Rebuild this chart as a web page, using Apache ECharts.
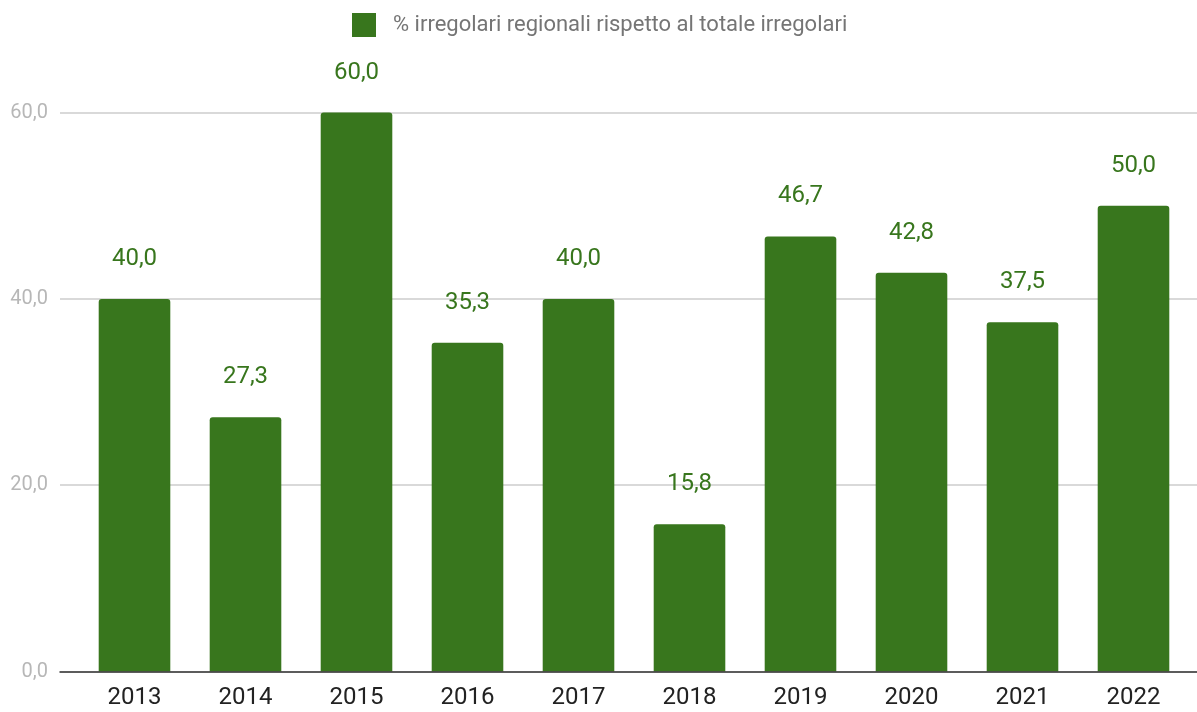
<!DOCTYPE html>
<html>
<head>
<meta charset="utf-8">
<script src="https://cdn.jsdelivr.net/npm/echarts@6/dist/echarts.min.js"></script>
<style>
  html, body { margin: 0; padding: 0; background: #fff; }
  #chart { width: 1197px; height: 712px; }
</style>
</head>
<body>
<div id="chart"></div>
<script>
const years = ["2013", "2014", "2015", "2016", "2017", "2018", "2019", "2020", "2021", "2022"];
const percents = [40.0, 27.3, 60.0, 35.3, 40.0, 15.8, 46.7, 42.8, 37.5, 50.0];
const seriesName = "% irregolari regionali rispetto al totale irregolari";

const green = "#38761d";
const fmt = (v) => v.toFixed(1).replace(".", ",");

const option = {
  animation: false,
  textStyle: { fontFamily: "Roboto" },
  legend: {
    left: 352,
    top: 13,
    padding: 0,
    icon: "rect",
    itemWidth: 24,
    itemHeight: 24,
    textStyle: { fontSize: 22, color: "#757575", padding: [0, 0, 0, 12] },
    data: [seriesName],
  },
  grid: [
    // gridlines and axis line
    { left: 60, right: 0, top: 112.6, bottom: 40.5 },
    // bars
    { left: 79, right: 8, top: 112.6, bottom: 40.5 },
  ],
  xAxis: [
    {
      gridIndex: 0,
      type: "category",
      data: years,
      axisTick: { show: false },
      axisLabel: { show: false },
      axisLine: { lineStyle: { color: "#333", width: 1.5 } },
      z: 5,
    },
    {
      gridIndex: 1,
      type: "category",
      data: years,
      axisTick: { show: false },
      axisLine: { show: false },
      axisLabel: { color: "#222", fontSize: 24, margin: 14 },
    },
  ],
  yAxis: [
    {
      gridIndex: 0,
      type: "value",
      min: 0,
      max: 60,
      interval: 20,
      axisLine: { show: false },
      axisTick: { show: false },
      axisLabel: { color: "#b7b7b7", fontSize: 20, margin: 12, formatter: fmt },
      splitLine: { lineStyle: { color: "#cccccc", width: 1.5 } },
    },
    {
      gridIndex: 1,
      type: "value",
      min: 0,
      max: 60,
      show: false,
    },
  ],
  series: [
    {
      name: seriesName,
      type: "bar",
      xAxisIndex: 1,
      yAxisIndex: 1,
      data: percents,
      barWidth: "64.5%",
      itemStyle: { color: green, borderRadius: [3, 3, 0, 0] },
      label: {
        show: true,
        position: "top",
        distance: 28,
        color: green,
        fontSize: 24,
        formatter: (p) => fmt(p.value),
      },
    },
  ],
};

echarts.init(document.getElementById("chart")).setOption(option);
</script>
</body>
</html>
